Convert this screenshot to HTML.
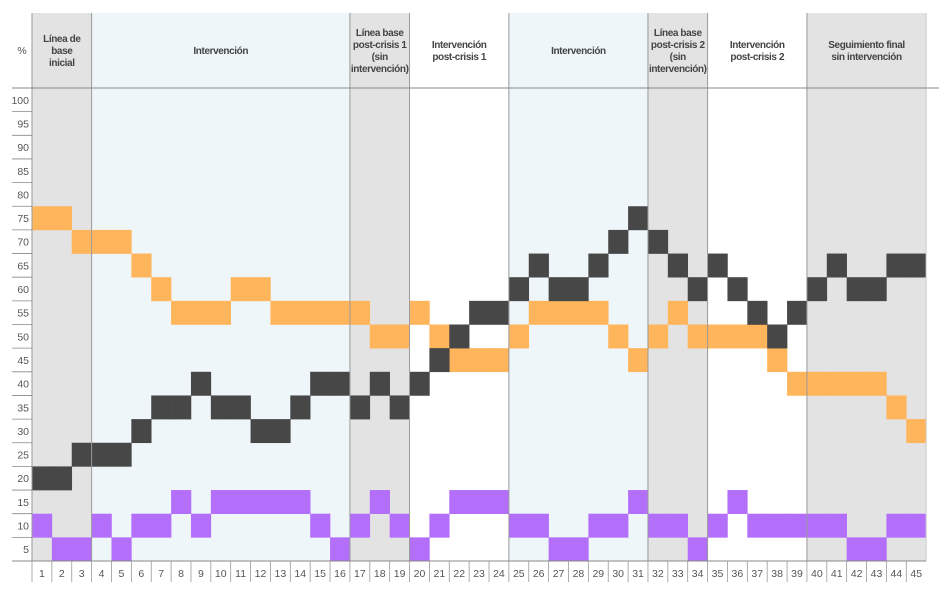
<!DOCTYPE html>
<html><head><meta charset="utf-8">
<style>
html,body{margin:0;padding:0;background:#fff;}
svg{display:block;font-family:"Liberation Sans",sans-serif;}
.hd{font-size:10px;font-weight:bold;fill:#444;text-anchor:middle;letter-spacing:-0.4px;}
.tk{font-size:10.5px;fill:#555;}
</style></head>
<body>
<svg id="chart" width="939" height="592" viewBox="0 0 939 592"></svg>
<script>
const sessions = [];
for (let i = 1; i <= 45; i++) sessions.push(i);
const yTicks = [100,95,90,85,80,75,70,65,60,55,50,45,40,35,30,25,20,15,10,5];
const darkSeries = [20,20,25,25,25,30,35,35,40,35,35,30,30,35,40,40,35,40,35,40,45,50,55,55,60,65,60,60,65,70,75,70,65,60,65,60,55,50,55,60,65,60,60,65,65];
const orangeSeries = [75,75,70,70,70,65,60,55,55,55,60,60,55,55,55,55,55,50,50,55,50,45,45,45,50,55,55,55,55,50,45,50,55,50,50,50,50,45,40,40,40,40,40,35,30];
const purpleSeries = [10,5,5,10,5,10,10,15,10,15,15,15,15,15,10,5,10,15,10,5,10,15,15,15,10,10,5,5,10,10,15,10,10,5,10,15,10,10,10,10,10,5,5,10,10];
const phaseStart = [1,4,17,20,25,32,35,40];
const phaseEnd = [3,16,19,24,31,34,39,45];
const phaseKind = ["gray","blue","gray","white","blue","gray","white","gray"];
const phaseLabels = [["Línea de","base","inicial"],["Intervención"],["Línea base","post-crisis 1","(sin","intervención)"],["Intervención","post-crisis 1"],["Intervención"],["Línea base","post-crisis 2","(sin","intervención)"],["Intervención","post-crisis 2"],["Seguimiento final","sin intervención"]];

const svg = document.getElementById('chart');
const NS = 'http://www.w3.org/2000/svg';
const X0 = 32, CW = 19.87, TOP = 13, HB = 88, RH = 23.65, BOT = 561;
function xCol(i){ return X0 + (i-1)*CW; }
function yVal(v){ return HB + (100 - v)/5*RH; }
function mk(tag, attrs){ const e = document.createElementNS(NS, tag); for (const k in attrs) e.setAttribute(k, attrs[k]); svg.appendChild(e); return e; }
const fills = {gray:"#e3e3e3", blue:"#eef6fa", white:"#ffffff"};

// phase backgrounds
phaseStart.forEach((s, p) => {
  const r = mk('rect', {x:xCol(s), y:TOP, width:(phaseEnd[p]-s+1)*CW, height:BOT-TOP, fill:fills[phaseKind[p]]});
  
  
  const lines = phaseLabels[p];
  const cx = xCol(s) + (phaseEnd[p]-s+1)*CW/2;
  const lh = 12;
  const y0 = 51 - (lines.length-1)*lh/2 + 3;
  const t = mk('text', {class:'hd', x:cx, y:y0});
  
  
  lines.forEach((ln, k) => { const ts = document.createElementNS(NS,'tspan'); ts.setAttribute('x', cx); ts.setAttribute('y', y0 + k*lh); ts.textContent = ln; t.appendChild(ts); });
});

// bars
function drawSeries(vals, color, name){
  vals.forEach((v, i) => {
    const r = mk('rect', {x:xCol(sessions[i]), y:yVal(v), width:CW+0.3, height:RH+0.3, fill:color});
    
    
  });
}
drawSeries(orangeSeries, '#ffb55c', 'orange-cell');
drawSeries(darkSeries, '#474747', 'dark-cell');
drawSeries(purpleSeries, '#b46ffa', 'purple-cell');

// phase separators
phaseStart.forEach(s => { mk('line', {x1:xCol(s), y1:TOP, x2:xCol(s), y2:BOT, stroke:'#999', 'stroke-width':1}); });
mk('line', {x1:xCol(46), y1:TOP, x2:xCol(46), y2:BOT, stroke:'#ccc', 'stroke-width':1});
// header line and bottom axis
mk('line', {x1:12, y1:HB, x2:939, y2:HB, stroke:'#888', 'stroke-width':1});
mk('line', {x1:12, y1:BOT, x2:xCol(46), y2:BOT, stroke:'#888', 'stroke-width':1});

// y labels
const pct = mk('text', {class:'tk', x:22, y:54, 'text-anchor':'middle'});
pct.textContent = '%';


yTicks.forEach(v => {
  const y = yVal(v);
  if (v !== 100) mk('line', {x1:12, y1:y, x2:X0, y2:y, stroke:'#888', 'stroke-width':0.8});
  const t = mk('text', {class:'tk', x:29, y:y+RH/2+4, 'text-anchor':'end'});
  t.textContent = v;
  
  
});
// x labels
sessions.forEach(s => {
  mk('line', {x1:xCol(s), y1:BOT, x2:xCol(s), y2:582, stroke:'#999', 'stroke-width':0.8});
  const t = mk('text', {class:'tk', x:xCol(s)+CW/2, y:577, 'text-anchor':'middle'});
  t.textContent = s;
  
  
});
</script>
</body></html>
